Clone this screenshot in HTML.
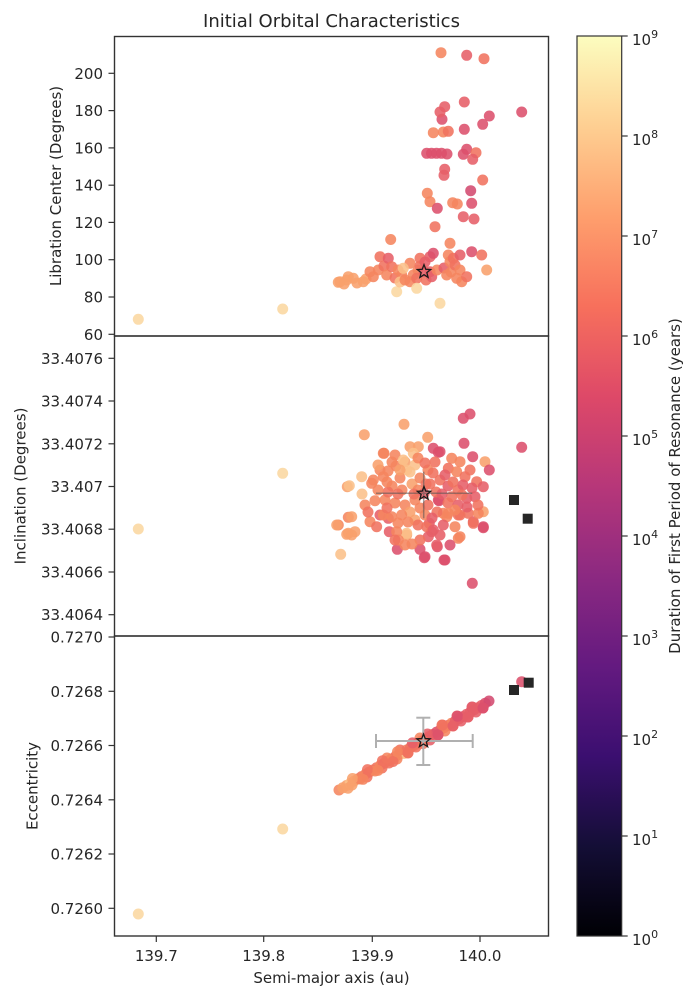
<!DOCTYPE html>
<html><head><meta charset="utf-8"><style>
html,body{margin:0;padding:0;background:#fff;}
svg{display:block;font-family:"DejaVu Sans","Liberation Sans",sans-serif;}
.t{font-size:15px;fill:#262626;}
circle{opacity:0.88;}
.A{fill:#fbd7a0}.B{fill:#fbc08a}.C{fill:#f8a06c}.D{fill:#f5855f}.E{fill:#f0725f}.F{fill:#e65f68}.G{fill:#dc506c}.H{fill:#d34a70}
</style></head><body>
<svg width="697" height="1000" viewBox="0 0 697 1000" xmlns="http://www.w3.org/2000/svg">
<defs>
<linearGradient id="magma" x1="0" y1="1" x2="0" y2="0">
<stop offset="0" stop-color="#000004"/><stop offset="0.1" stop-color="#140e36"/><stop offset="0.2" stop-color="#3b0f70"/><stop offset="0.3" stop-color="#641a80"/><stop offset="0.4" stop-color="#8c2981"/><stop offset="0.5" stop-color="#b73779"/><stop offset="0.6" stop-color="#de4968"/><stop offset="0.7" stop-color="#f7705c"/><stop offset="0.8" stop-color="#fe9f6d"/><stop offset="0.9" stop-color="#fecf92"/><stop offset="1" stop-color="#fcfdbf"/>
</linearGradient>
<polygon id="star" points="0,-7 1.76,-2.43 6.66,-2.16 2.85,0.93 4.11,5.66 0,3 -4.11,5.66 -2.85,0.93 -6.66,-2.16 -1.76,-2.43" fill="none" stroke="#1a1a1a" stroke-width="1.3" stroke-linejoin="miter"/>
</defs>
<rect width="697" height="1000" fill="#fff"/>
<text x="331.5" y="27" text-anchor="middle" style="font-size:18px;fill:#262626">Initial Orbital Characteristics</text>

<!-- TOP PANEL points -->
<g>
<circle cx="138.3" cy="319.3" r="5.5" class="A"/>
<circle cx="282.7" cy="309" r="5.5" class="A"/>
<circle cx="338.3" cy="282.3" r="5.5" class="C"/><circle cx="346.7" cy="280" r="5.5" class="C"/><circle cx="340" cy="281.7" r="5.5" class="C"/><circle cx="348.3" cy="276.7" r="5.5" class="C"/><circle cx="353.3" cy="278.3" r="5.5" class="C"/><circle cx="344" cy="284" r="5.5" class="C"/><circle cx="357" cy="283" r="5.5" class="C"/><circle cx="363.3" cy="281.7" r="5.5" class="C"/><circle cx="366" cy="279" r="5.5" class="C"/>
<circle cx="370" cy="271.7" r="5.5" class="D"/><circle cx="373.3" cy="276.7" r="5.5" class="D"/><circle cx="378.3" cy="270" r="5.5" class="D"/><circle cx="380" cy="256.7" r="5.5" class="E"/><circle cx="384" cy="266" r="5.5" class="E"/><circle cx="386.7" cy="275" r="5.5" class="D"/><circle cx="388.3" cy="258.3" r="5.5" class="F"/><circle cx="391.7" cy="266.7" r="5.5" class="E"/><circle cx="390.7" cy="239.5" r="5.5" class="D"/><circle cx="395" cy="278" r="5.5" class="E"/><circle cx="398" cy="270" r="5.5" class="D"/><circle cx="396.7" cy="291.7" r="5.5" class="A"/><circle cx="401.7" cy="275" r="5.5" class="D"/><circle cx="400" cy="282" r="5.5" class="B"/><circle cx="405" cy="280" r="5.5" class="D"/><circle cx="410" cy="263.3" r="5.5" class="D"/><circle cx="410" cy="281.7" r="5.5" class="D"/><circle cx="413.3" cy="275" r="5.5" class="D"/><circle cx="418" cy="270" r="5.5" class="D"/><circle cx="416.7" cy="278.3" r="5.5" class="E"/><circle cx="416.7" cy="288.3" r="5.5" class="A"/><circle cx="420" cy="258.3" r="5.5" class="E"/><circle cx="420" cy="266" r="5.5" class="E"/><circle cx="425" cy="262" r="5.5" class="F"/><circle cx="426" cy="280" r="5.5" class="E"/><circle cx="430" cy="256.7" r="5.5" class="F"/><circle cx="433.3" cy="253.3" r="5.5" class="G"/><circle cx="430" cy="271.7" r="5.5" class="F"/><circle cx="431.7" cy="276.7" r="5.5" class="F"/><circle cx="437" cy="270" r="5.5" class="D"/><circle cx="444" cy="268" r="5.5" class="F"/><circle cx="403.3" cy="268.3" r="5.5" class="B"/><circle cx="424" cy="271.7" r="5.5" class="F"/>
<circle cx="435" cy="226.7" r="5.5" class="E"/><circle cx="440" cy="303.3" r="5.5" class="A"/><circle cx="446.7" cy="275" r="5.5" class="D"/><circle cx="448.3" cy="255" r="5.5" class="D"/><circle cx="450" cy="243.3" r="5.5" class="D"/><circle cx="450" cy="261.7" r="5.5" class="D"/><circle cx="453.3" cy="258.3" r="5.5" class="E"/><circle cx="451" cy="272" r="5.5" class="D"/><circle cx="455" cy="265" r="5.5" class="E"/><circle cx="456.7" cy="278.3" r="5.5" class="D"/><circle cx="460" cy="255" r="5.5" class="F"/><circle cx="460" cy="270" r="5.5" class="D"/><circle cx="461.7" cy="281.7" r="5.5" class="D"/><circle cx="466.7" cy="276.7" r="5.5" class="E"/><circle cx="471.7" cy="251.7" r="5.5" class="G"/><circle cx="481.7" cy="255" r="5.5" class="E"/><circle cx="486.7" cy="270" r="5.5" class="C"/>
<circle cx="463.3" cy="216.7" r="5.5" class="F"/><circle cx="474" cy="219" r="5.5" class="F"/><circle cx="427.3" cy="193.3" r="5.5" class="D"/><circle cx="430" cy="201.7" r="5.5" class="D"/><circle cx="437.3" cy="208.3" r="5.5" class="G"/><circle cx="452.7" cy="202.7" r="5.5" class="D"/><circle cx="457.3" cy="204" r="5.5" class="D"/><circle cx="470.7" cy="190.7" r="5.5" class="H"/><circle cx="471.7" cy="203.3" r="5.5" class="G"/><circle cx="482.7" cy="180" r="5.5" class="E"/><circle cx="444.7" cy="169.3" r="5.5" class="F"/><circle cx="444" cy="175.3" r="5.5" class="F"/>
<circle cx="426.7" cy="153.3" r="5.5" class="G"/><circle cx="431.5" cy="153.3" r="5.5" class="G"/><circle cx="436.5" cy="153.3" r="5.5" class="G"/><circle cx="441.5" cy="153.3" r="5.5" class="G"/><circle cx="447" cy="154" r="5.5" class="G"/><circle cx="466.7" cy="149.3" r="5.5" class="G"/><circle cx="463.3" cy="154.3" r="5.5" class="G"/><circle cx="476" cy="152.7" r="5.5" class="E"/><circle cx="472.7" cy="159.3" r="5.5" class="F"/>
<circle cx="464.3" cy="129.3" r="5.5" class="G"/><circle cx="433.3" cy="132.7" r="5.5" class="D"/><circle cx="443.3" cy="132" r="5.5" class="D"/><circle cx="448.3" cy="131.3" r="5.5" class="E"/><circle cx="442" cy="119.3" r="5.5" class="G"/><circle cx="440" cy="112" r="5.5" class="F"/><circle cx="444.7" cy="106.7" r="5.5" class="F"/><circle cx="464.3" cy="102" r="5.5" class="F"/><circle cx="489.3" cy="116" r="5.5" class="G"/><circle cx="482.7" cy="124.3" r="5.5" class="G"/><circle cx="521.7" cy="112" r="5.5" class="G"/>
<circle cx="441" cy="52.7" r="5.5" class="D"/><circle cx="466.7" cy="55.3" r="5.5" class="F"/><circle cx="484" cy="58.7" r="5.5" class="E"/>
</g>
<use href="#star" x="424" y="271.7"/>

<!-- MIDDLE PANEL points -->
<g>
<circle cx="138.3" cy="529" r="5.5" class="A"/><circle cx="282.7" cy="473.3" r="5.5" class="A"/>
<circle cx="347.3" cy="486.7" r="5.5" class="C"/><circle cx="338.3" cy="525" r="5.5" class="D"/><circle cx="348.3" cy="517.3" r="5.5" class="D"/><circle cx="346.7" cy="534.3" r="5.5" class="C"/><circle cx="340.7" cy="554.3" r="5.5" class="B"/>
<circle cx="463.3" cy="418.3" r="5.5" class="G"/><circle cx="470" cy="414" r="5.5" class="G"/><circle cx="404" cy="424.3" r="5.5" class="C"/><circle cx="364.3" cy="434.7" r="5.5" class="C"/><circle cx="427.7" cy="437.3" r="5.5" class="C"/><circle cx="521.7" cy="447.3" r="5.5" class="G"/><circle cx="464" cy="443.3" r="5.5" class="G"/><circle cx="433.3" cy="448.3" r="5.5" class="G"/><circle cx="438.3" cy="452.3" r="5.5" class="G"/><circle cx="472.7" cy="456.7" r="5.5" class="G"/><circle cx="485" cy="461.7" r="5.5" class="C"/><circle cx="489.3" cy="470" r="5.5" class="G"/><circle cx="384" cy="453.3" r="5.5" class="D"/><circle cx="361.7" cy="476.7" r="5.5" class="B"/><circle cx="349.3" cy="485.7" r="5.5" class="B"/><circle cx="371.7" cy="483.3" r="5.5" class="D"/><circle cx="375" cy="500.7" r="5.5" class="D"/><circle cx="351.7" cy="516.7" r="5.5" class="C"/><circle cx="348.3" cy="533.3" r="5.5" class="C"/><circle cx="355" cy="531.7" r="5.5" class="C"/><circle cx="370" cy="521.7" r="5.5" class="D"/><circle cx="376.7" cy="526.7" r="5.5" class="E"/><circle cx="380" cy="515" r="5.5" class="F"/><circle cx="388.3" cy="518.3" r="5.5" class="F"/><circle cx="389.3" cy="531.7" r="5.5" class="F"/><circle cx="406.7" cy="535" r="5.5" class="C"/><circle cx="397.3" cy="549.3" r="5.5" class="G"/><circle cx="420" cy="549.3" r="5.5" class="G"/><circle cx="424.3" cy="557.7" r="5.5" class="G"/><circle cx="437.3" cy="546.7" r="5.5" class="G"/><circle cx="444" cy="560" r="5.5" class="G"/><circle cx="458.3" cy="538.3" r="5.5" class="D"/><circle cx="455" cy="526.7" r="5.5" class="D"/><circle cx="473.3" cy="521.7" r="5.5" class="F"/><circle cx="483.3" cy="527.7" r="5.5" class="G"/><circle cx="483.3" cy="511.7" r="5.5" class="C"/><circle cx="468.3" cy="513.3" r="5.5" class="E"/><circle cx="460" cy="515" r="5.5" class="E"/><circle cx="443.3" cy="513.3" r="5.5" class="D"/><circle cx="446.7" cy="516.7" r="5.5" class="D"/><circle cx="439" cy="500.7" r="5.5" class="G"/><circle cx="429.3" cy="523.3" r="5.5" class="F"/><circle cx="431.7" cy="531.7" r="5.5" class="F"/><circle cx="472.3" cy="583.3" r="5.5" class="G"/>
<circle cx="383.3" cy="453.3" r="5.5" class="D"/><circle cx="395" cy="455" r="5.5" class="D"/><circle cx="410" cy="446.7" r="5.5" class="C"/><circle cx="418.3" cy="446.7" r="5.5" class="C"/><circle cx="413.3" cy="453.3" r="5.5" class="B"/><circle cx="440" cy="451.7" r="5.5" class="G"/><circle cx="451.7" cy="458.3" r="5.5" class="D"/><circle cx="460" cy="461.7" r="5.5" class="D"/><circle cx="448.3" cy="468.3" r="5.5" class="E"/><circle cx="456.7" cy="471.7" r="5.5" class="D"/><circle cx="465" cy="476.7" r="5.5" class="E"/><circle cx="476.7" cy="481.7" r="5.5" class="E"/><circle cx="483.3" cy="486.7" r="5.5" class="F"/><circle cx="466.7" cy="498.3" r="5.5" class="F"/><circle cx="475" cy="496.7" r="5.5" class="F"/><circle cx="438.3" cy="500" r="5.5" class="G"/><circle cx="451.7" cy="496.7" r="5.5" class="E"/><circle cx="373.3" cy="480" r="5.5" class="D"/><circle cx="383.3" cy="476.7" r="5.5" class="D"/><circle cx="388" cy="471" r="5.5" class="D"/><circle cx="396" cy="466" r="5.5" class="D"/><circle cx="405" cy="462" r="5.5" class="C"/><circle cx="415" cy="465" r="5.5" class="B"/><circle cx="410" cy="472" r="5.5" class="B"/><circle cx="403.3" cy="460" r="5.5" class="B"/><circle cx="406.7" cy="470" r="5.5" class="B"/><circle cx="400" cy="478" r="5.5" class="D"/><circle cx="392" cy="486" r="5.5" class="D"/><circle cx="402" cy="490" r="5.5" class="D"/><circle cx="412" cy="484" r="5.5" class="C"/><circle cx="420" cy="478" r="5.5" class="D"/><circle cx="428" cy="470" r="5.5" class="D"/><circle cx="435" cy="462" r="5.5" class="E"/><circle cx="430" cy="484" r="5.5" class="E"/><circle cx="440" cy="480" r="5.5" class="E"/><circle cx="448" cy="486" r="5.5" class="F"/><circle cx="458" cy="490" r="5.5" class="E"/><circle cx="415" cy="500" r="5.5" class="D"/><circle cx="405" cy="505" r="5.5" class="D"/><circle cx="395" cy="503" r="5.5" class="D"/><circle cx="385" cy="500" r="5.5" class="D"/><circle cx="410" cy="512" r="5.5" class="C"/><circle cx="420" cy="508" r="5.5" class="D"/><circle cx="428" cy="505" r="5.5" class="E"/><circle cx="448" cy="503" r="5.5" class="E"/><circle cx="458" cy="505" r="5.5" class="F"/><circle cx="383.3" cy="515" r="5.5" class="D"/><circle cx="391.7" cy="516.7" r="5.5" class="D"/><circle cx="401.7" cy="515" r="5.5" class="D"/><circle cx="415" cy="520" r="5.5" class="C"/><circle cx="426.7" cy="526.7" r="5.5" class="E"/><circle cx="433.3" cy="530" r="5.5" class="F"/><circle cx="406.7" cy="533.3" r="5.5" class="B"/><circle cx="396.7" cy="531.7" r="5.5" class="D"/><circle cx="448.3" cy="513.3" r="5.5" class="D"/><circle cx="458.3" cy="515" r="5.5" class="E"/><circle cx="478.3" cy="513.3" r="5.5" class="D"/><circle cx="483.3" cy="526.7" r="5.5" class="G"/><circle cx="473.3" cy="523.3" r="5.5" class="E"/><circle cx="460" cy="536.7" r="5.5" class="D"/><circle cx="443.3" cy="525" r="5.5" class="F"/><circle cx="428.3" cy="536.7" r="5.5" class="F"/><circle cx="436.7" cy="545" r="5.5" class="F"/><circle cx="420" cy="540" r="5.5" class="E"/><circle cx="412" cy="544" r="5.5" class="D"/><circle cx="398.3" cy="540" r="5.5" class="D"/><circle cx="425" cy="556.7" r="5.5" class="G"/><circle cx="445" cy="560" r="5.5" class="G"/><circle cx="336.7" cy="525" r="5.5" class="C"/><circle cx="351.7" cy="535" r="5.5" class="C"/>
<circle cx="398" cy="494" r="5.5" class="E"/><circle cx="388" cy="492" r="5.5" class="E"/><circle cx="378" cy="490" r="5.5" class="D"/><circle cx="362" cy="494" r="5.5" class="B"/><circle cx="418" cy="490" r="5.5" class="D"/><circle cx="436" cy="492" r="5.5" class="E"/>
<circle cx="392" cy="462" r="5.5" class="D"/><circle cx="400" cy="470" r="5.5" class="C"/><circle cx="418" cy="458" r="5.5" class="D"/><circle cx="425" cy="463" r="5.5" class="E"/><circle cx="433" cy="473" r="5.5" class="E"/><circle cx="445" cy="475" r="5.5" class="F"/><circle cx="453" cy="482" r="5.5" class="E"/><circle cx="463" cy="485" r="5.5" class="F"/><circle cx="470" cy="470" r="5.5" class="E"/><circle cx="478" cy="505" r="5.5" class="E"/><circle cx="467" cy="507" r="5.5" class="F"/><circle cx="455" cy="510" r="5.5" class="D"/><circle cx="437" cy="512" r="5.5" class="E"/><circle cx="425" cy="515" r="5.5" class="D"/><circle cx="418" cy="525" r="5.5" class="E"/><circle cx="408" cy="522" r="5.5" class="D"/><circle cx="398" cy="523" r="5.5" class="D"/><circle cx="387" cy="508" r="5.5" class="E"/><circle cx="380" cy="470" r="5.5" class="D"/><circle cx="365" cy="505" r="5.5" class="D"/><circle cx="368" cy="512" r="5.5" class="E"/><circle cx="395" cy="540" r="5.5" class="E"/><circle cx="405" cy="545" r="5.5" class="D"/><circle cx="440" cy="535" r="5.5" class="F"/><circle cx="450" cy="545" r="5.5" class="G"/><circle cx="432" cy="518" r="5.5" class="F"/><circle cx="414" cy="494" r="5.5" class="E"/><circle cx="426" cy="484" r="5.5" class="E"/><circle cx="442" cy="494" r="5.5" class="F"/><circle cx="462" cy="495" r="5.5" class="E"/><circle cx="472" cy="488" r="5.5" class="F"/><circle cx="387" cy="482" r="5.5" class="D"/><circle cx="378" cy="465" r="5.5" class="C"/><circle cx="424" cy="493.5" r="5.5" class="F"/>
</g>
<g stroke="#555" stroke-width="1.5" opacity="0.55">
<line x1="376" y1="493.3" x2="472.3" y2="493.3"/><line x1="423.7" y1="471.7" x2="423.7" y2="518.3"/>
</g>
<rect x="509" y="495" width="10" height="10" fill="#262626"/>
<rect x="522.7" y="513.7" width="10" height="10" fill="#262626"/>
<use href="#star" x="424" y="493.5"/>

<!-- BOTTOM PANEL points -->
<g>
<circle cx="138.3" cy="914" r="5.5" class="A"/><circle cx="282.7" cy="829" r="5.5" class="A"/>
<circle cx="339" cy="790" r="5.5" class="D"/><circle cx="342.75" cy="787.8" r="5.5" class="C"/><circle cx="346.5" cy="785.5" r="5.5" class="C"/><circle cx="350.25" cy="783.3" r="5.5" class="B"/><circle cx="354" cy="781.1" r="5.5" class="C"/>
<circle cx="357.75" cy="778.9" r="5.5" class="D"/><circle cx="361.5" cy="776.65" r="5.5" class="E"/><circle cx="365.25" cy="774.4" r="5.5" class="D"/><circle cx="369" cy="772.2" r="5.5" class="E"/><circle cx="372.75" cy="770" r="5.5" class="D"/><circle cx="376.5" cy="767.75" r="5.5" class="E"/><circle cx="380.25" cy="765.5" r="5.5" class="D"/><circle cx="384" cy="763.3" r="5.5" class="F"/>
<circle cx="387.75" cy="761.1" r="5.5" class="E"/><circle cx="391.5" cy="758.85" r="5.5" class="D"/><circle cx="395.25" cy="756.6" r="5.5" class="E"/><circle cx="399" cy="754.4" r="5.5" class="D"/><circle cx="404" cy="753.5" r="5.5" class="B"/><circle cx="406.5" cy="750" r="5.5" class="D"/>
<circle cx="410.25" cy="747.7" r="5.5" class="E"/><circle cx="414" cy="745.5" r="5.5" class="E"/><circle cx="417.75" cy="743.3" r="5.5" class="F"/><circle cx="421.5" cy="741.05" r="5.5" class="E"/><circle cx="425.25" cy="738.8" r="5.5" class="F"/><circle cx="429" cy="736.6" r="5.5" class="E"/>
<circle cx="432.75" cy="734.4" r="5.5" class="E"/><circle cx="436.5" cy="732.15" r="5.5" class="G"/><circle cx="440.25" cy="729.9" r="5.5" class="F"/><circle cx="444" cy="727.7" r="5.5" class="E"/><circle cx="447.75" cy="725.5" r="5.5" class="F"/><circle cx="451.5" cy="723.25" r="5.5" class="D"/>
<circle cx="455.25" cy="721" r="5.5" class="F"/><circle cx="459" cy="718.8" r="5.5" class="F"/><circle cx="462.75" cy="716.6" r="5.5" class="G"/><circle cx="466.5" cy="714.35" r="5.5" class="F"/><circle cx="470.25" cy="712.1" r="5.5" class="F"/><circle cx="474" cy="709.9" r="5.5" class="G"/><circle cx="477.75" cy="707.7" r="5.5" class="F"/><circle cx="481.5" cy="705.45" r="5.5" class="F"/><circle cx="485.25" cy="703.2" r="5.5" class="G"/><circle cx="489" cy="701" r="5.5" class="H"/>
<circle cx="352" cy="785" r="5.5" class="C"/><circle cx="360" cy="779" r="5.5" class="D"/><circle cx="367" cy="777" r="5.5" class="E"/><circle cx="375" cy="771" r="5.5" class="D"/><circle cx="382" cy="768" r="5.5" class="E"/><circle cx="389" cy="763" r="5.5" class="E"/><circle cx="397" cy="759" r="5.5" class="D"/><circle cx="408" cy="753" r="5.5" class="E"/><circle cx="416" cy="747" r="5.5" class="E"/><circle cx="430" cy="740" r="5.5" class="F"/><circle cx="438" cy="735" r="5.5" class="E"/><circle cx="445" cy="731" r="5.5" class="D"/><circle cx="453" cy="726" r="5.5" class="E"/><circle cx="461" cy="721" r="5.5" class="F"/><circle cx="468" cy="717" r="5.5" class="F"/><circle cx="476" cy="712" r="5.5" class="F"/><circle cx="483" cy="708" r="5.5" class="G"/>
<circle cx="387" cy="758" r="5.5" class="D"/><circle cx="400" cy="750" r="5.5" class="E"/><circle cx="420" cy="738" r="5.5" class="D"/><circle cx="442" cy="725" r="5.5" class="E"/><circle cx="457" cy="716" r="5.5" class="F"/><circle cx="472" cy="707" r="5.5" class="G"/>
<circle cx="348" cy="788.2" r="5.5" class="C"/><circle cx="352.5" cy="778.5" r="5.5" class="C"/><circle cx="363" cy="779.3" r="5.5" class="D"/><circle cx="367.5" cy="769.6" r="5.5" class="E"/><circle cx="378" cy="770.4" r="5.5" class="D"/><circle cx="382.5" cy="760.7" r="5.5" class="E"/><circle cx="393" cy="761.5" r="5.5" class="E"/><circle cx="397.5" cy="751.8" r="5.5" class="D"/><circle cx="408" cy="752.6" r="5.5" class="E"/><circle cx="412.5" cy="742.9" r="5.5" class="F"/><circle cx="423" cy="743.6" r="5.5" class="E"/><circle cx="427.5" cy="734" r="5.5" class="F"/><circle cx="438" cy="734.8" r="5.5" class="G"/><circle cx="442.5" cy="725.1" r="5.5" class="E"/><circle cx="453" cy="725.9" r="5.5" class="F"/><circle cx="457.5" cy="716.2" r="5.5" class="G"/><circle cx="468" cy="717" r="5.5" class="F"/><circle cx="472.5" cy="707.3" r="5.5" class="F"/><circle cx="483" cy="708" r="5.5" class="G"/>
<circle cx="423.5" cy="741" r="5.5" class="E"/>
<circle cx="521.7" cy="681.7" r="5.5" class="G"/>
</g>
<g stroke="#b0b0b0" stroke-width="2" fill="none">
<line x1="376" y1="741" x2="472.7" y2="741"/><line x1="376" y1="734" x2="376" y2="748"/><line x1="472.7" y1="734" x2="472.7" y2="748"/>
<line x1="423.3" y1="717.7" x2="423.3" y2="765"/><line x1="416.3" y1="717.7" x2="430.3" y2="717.7"/><line x1="416.3" y1="765" x2="430.3" y2="765"/>
</g>
<use href="#star" x="423.5" y="741"/>
<rect x="509" y="685" width="10" height="10" fill="#262626"/>
<rect x="523.7" y="677.7" width="10" height="10" fill="#262626"/>

<!-- Axes frames -->
<g fill="none" stroke="#333" stroke-width="1.4">
<rect x="114.5" y="36.5" width="434" height="299.5"/>
<rect x="114.5" y="336" width="434" height="300"/>
<rect x="114.5" y="636" width="434" height="300"/>
</g>

<g stroke="#333" stroke-width="1.2">
<line x1="108.5" y1="73.3" x2="114.5" y2="73.3"/><line x1="108.5" y1="110.6" x2="114.5" y2="110.6"/><line x1="108.5" y1="147.9" x2="114.5" y2="147.9"/><line x1="108.5" y1="185.2" x2="114.5" y2="185.2"/><line x1="108.5" y1="222.4" x2="114.5" y2="222.4"/><line x1="108.5" y1="259.7" x2="114.5" y2="259.7"/><line x1="108.5" y1="297" x2="114.5" y2="297"/><line x1="108.5" y1="334.3" x2="114.5" y2="334.3"/>
<line x1="108.5" y1="358.3" x2="114.5" y2="358.3"/><line x1="108.5" y1="401" x2="114.5" y2="401"/><line x1="108.5" y1="443.8" x2="114.5" y2="443.8"/><line x1="108.5" y1="486.5" x2="114.5" y2="486.5"/><line x1="108.5" y1="529.2" x2="114.5" y2="529.2"/><line x1="108.5" y1="572" x2="114.5" y2="572"/><line x1="108.5" y1="614.7" x2="114.5" y2="614.7"/>
<line x1="108.5" y1="637" x2="114.5" y2="637"/><line x1="108.5" y1="691.3" x2="114.5" y2="691.3"/><line x1="108.5" y1="745.5" x2="114.5" y2="745.5"/><line x1="108.5" y1="799.8" x2="114.5" y2="799.8"/><line x1="108.5" y1="854" x2="114.5" y2="854"/><line x1="108.5" y1="908.3" x2="114.5" y2="908.3"/>
<line x1="156.3" y1="936" x2="156.3" y2="942"/><line x1="263.7" y1="936" x2="263.7" y2="942"/><line x1="372.3" y1="936" x2="372.3" y2="942"/><line x1="480" y1="936" x2="480" y2="942"/>
</g>
<g class="t" text-anchor="end">
<text x="103" y="78.8">200</text><text x="103" y="116.1">180</text><text x="103" y="153.4">160</text><text x="103" y="190.7">140</text><text x="103" y="227.9">120</text><text x="103" y="265.2">100</text><text x="103" y="302.5">80</text><text x="103" y="339.8">60</text>
<text x="103" y="363.8">33.4076</text><text x="103" y="406.5">33.4074</text><text x="103" y="449.3">33.4072</text><text x="103" y="492">33.407</text><text x="103" y="534.7">33.4068</text><text x="103" y="577.5">33.4066</text><text x="103" y="620.2">33.4064</text>
<text x="103" y="642.5">0.7270</text><text x="103" y="696.8">0.7268</text><text x="103" y="751">0.7266</text><text x="103" y="805.3">0.7264</text><text x="103" y="859.5">0.7262</text><text x="103" y="913.8">0.7260</text>
</g>
<g class="t" text-anchor="middle">
<text x="156.3" y="961">139.7</text><text x="263.7" y="961">139.8</text><text x="372.3" y="961">139.9</text><text x="480" y="961">140.0</text>
<text x="331.5" y="983">Semi-major axis (au)</text>
<text transform="translate(61,186) rotate(-90)">Libration Center (Degrees)</text>
<text transform="translate(25.5,486) rotate(-90)">Inclination (Degrees)</text>
<text transform="translate(37.5,786) rotate(-90)">Eccentricity</text>
<text transform="translate(680,486) rotate(-90)">Duration of First Period of Resonance (years)</text>
</g>

<rect x="577" y="36" width="44.7" height="900" fill="url(#magma)" stroke="#333" stroke-width="1.2"/>
<g stroke="#333" stroke-width="1.2">
<line x1="621.7" y1="36" x2="627.7" y2="36"/><line x1="621.7" y1="136" x2="627.7" y2="136"/><line x1="621.7" y1="236" x2="627.7" y2="236"/><line x1="621.7" y1="336" x2="627.7" y2="336"/><line x1="621.7" y1="436" x2="627.7" y2="436"/><line x1="621.7" y1="536" x2="627.7" y2="536"/><line x1="621.7" y1="636" x2="627.7" y2="636"/><line x1="621.7" y1="736" x2="627.7" y2="736"/><line x1="621.7" y1="836" x2="627.7" y2="836"/><line x1="621.7" y1="936" x2="627.7" y2="936"/>
</g>
<g class="t">
<text x="632" y="45">10<tspan dy="-7" style="font-size:11px">9</tspan></text>
<text x="632" y="145">10<tspan dy="-7" style="font-size:11px">8</tspan></text>
<text x="632" y="245">10<tspan dy="-7" style="font-size:11px">7</tspan></text>
<text x="632" y="345">10<tspan dy="-7" style="font-size:11px">6</tspan></text>
<text x="632" y="445">10<tspan dy="-7" style="font-size:11px">5</tspan></text>
<text x="632" y="545">10<tspan dy="-7" style="font-size:11px">4</tspan></text>
<text x="632" y="645">10<tspan dy="-7" style="font-size:11px">3</tspan></text>
<text x="632" y="745">10<tspan dy="-7" style="font-size:11px">2</tspan></text>
<text x="632" y="845">10<tspan dy="-7" style="font-size:11px">1</tspan></text>
<text x="632" y="945">10<tspan dy="-7" style="font-size:11px">0</tspan></text>
</g>
</svg>
</body></html>
